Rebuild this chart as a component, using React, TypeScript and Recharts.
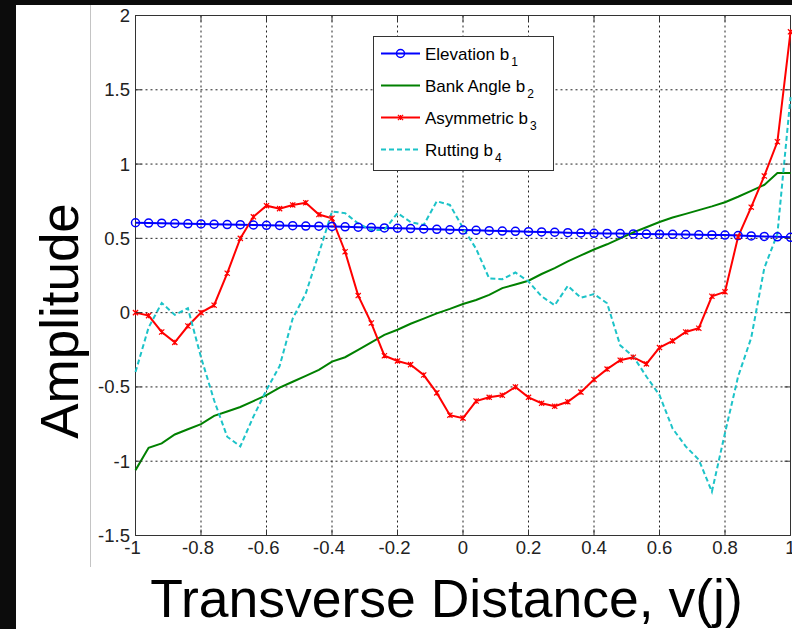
import {
  LineChart,
  Line,
  XAxis,
  YAxis,
  CartesianGrid,
  ReferenceArea,
  Legend,
  Label,
} from "recharts";

// transverse positions, step 0.04
const X_POS = [
  -1, -0.96, -0.92, -0.88, -0.84, -0.8, -0.76, -0.72, -0.68, -0.64,
  -0.6, -0.56, -0.52, -0.48, -0.44, -0.4, -0.36, -0.32, -0.28, -0.24,
  -0.2, -0.16, -0.12, -0.08, -0.04, 0, 0.04, 0.08, 0.12, 0.16,
  0.2, 0.24, 0.28, 0.32, 0.36, 0.4, 0.44, 0.48, 0.52, 0.56,
  0.6, 0.64, 0.68, 0.72, 0.76, 0.8, 0.84, 0.88, 0.92, 0.96, 1,
];

const ELEVATION = [
  0.605, 0.603, 0.602, 0.6, 0.598, 0.597, 0.595, 0.593, 0.592, 0.59,
  0.588, 0.587, 0.585, 0.583, 0.582, 0.58, 0.578, 0.575, 0.573, 0.57,
  0.568, 0.566, 0.563, 0.561, 0.558, 0.556, 0.554, 0.552, 0.549, 0.547,
  0.545, 0.543, 0.541, 0.538, 0.536, 0.534, 0.533, 0.532, 0.53, 0.529,
  0.528, 0.527, 0.526, 0.524, 0.523, 0.522, 0.519, 0.516, 0.513, 0.51, 0.507,
];

const BANK_ANGLE = [
  -1.06, -0.91, -0.88, -0.82, -0.785, -0.75, -0.695, -0.665, -0.635, -0.595,
  -0.555, -0.505, -0.465, -0.425, -0.385, -0.33, -0.3, -0.25, -0.2, -0.15,
  -0.115, -0.075, -0.04, -0.005, 0.025, 0.058, 0.085, 0.12, 0.165, 0.19,
  0.215, 0.26, 0.3, 0.345, 0.385, 0.425, 0.46, 0.5, 0.54, 0.575,
  0.61, 0.64, 0.665, 0.69, 0.715, 0.743, 0.78, 0.82, 0.86, 0.94, 0.94,
];

const ASYMMETRIC = [
  0, -0.02, -0.13, -0.2, -0.09, 0, 0.05, 0.265, 0.5, 0.645,
  0.72, 0.7, 0.725, 0.74, 0.66, 0.635, 0.41, 0.115, -0.07, -0.29,
  -0.325, -0.35, -0.42, -0.54, -0.69, -0.71, -0.595, -0.57, -0.556, -0.5,
  -0.57, -0.61, -0.63, -0.6, -0.535, -0.45, -0.38, -0.32, -0.3, -0.345,
  -0.235, -0.19, -0.13, -0.105, 0.11, 0.14, 0.51, 0.71, 0.92, 1.15, 1.89,
];

const RUTTING = [
  -0.4, -0.1, 0.065, -0.015, 0.03, -0.3, -0.59, -0.835, -0.9, -0.7,
  -0.52, -0.36, -0.04, 0.13, 0.4, 0.68, 0.67, 0.6, 0.557, 0.557,
  0.67, 0.61, 0.59, 0.75, 0.725, 0.57, 0.43, 0.23, 0.225, 0.27,
  0.21, 0.11, 0.05, 0.18, 0.1, 0.125, 0.063, -0.22, -0.295, -0.43,
  -0.555, -0.78, -0.9, -0.99, -1.205, -0.81, -0.43, -0.17, 0.3, 0.53, 1.45,
];

const X_TICKS = [-1, -0.8, -0.6, -0.4, -0.2, 0, 0.2, 0.4, 0.6, 0.8, 1];
const Y_TICKS = [-1.5, -1, -0.5, 0, 0.5, 1, 1.5, 2];

const SERIES = [
  { key: "b1", name: "Elevation b", sub: "1", color: "#0000ff" },
  { key: "b2", name: "Bank Angle b", sub: "2", color: "#008000" },
  { key: "b3", name: "Asymmetric b", sub: "3", color: "#ff0000" },
  { key: "b4", name: "Rutting b", sub: "4", color: "#1cc3c8" },
];

const W = 792;
const H = 629;
const PLOT = { left: 135.5, top: 15.5, right: 790.5, bottom: 535.5 };
const FONT = '"Liberation Sans", Arial, Helvetica, sans-serif';
const AXIS = "#333";
const TICK_LEN = 6;

const data = X_POS.map((x, i) => ({
  x,
  b1: ELEVATION[i],
  b2: BANK_ANGLE[i],
  b3: ASYMMETRIC[i],
  b4: RUTTING[i],
}));

function YTick({ x, y, payload }: any) {
  return (
    <g>
      <line x1={PLOT.left} x2={PLOT.left + TICK_LEN} y1={y} y2={y} stroke={AXIS} />
      <line x1={PLOT.right - TICK_LEN} x2={PLOT.right} y1={y} y2={y} stroke={AXIS} />
      <text x={x} y={y} dy="0.35em" textAnchor="end" fontSize={18.5} fontFamily={FONT} fill="#222">
        {String(payload.value)}
      </text>
    </g>
  );
}

function XTick({ x, y, payload }: any) {
  const v = payload.value;
  return (
    <g>
      <line x1={x} x2={x} y1={PLOT.bottom} y2={PLOT.bottom - TICK_LEN} stroke={AXIS} />
      <line x1={x} x2={x} y1={PLOT.top} y2={PLOT.top + TICK_LEN} stroke={AXIS} />
      <text x={x - (v < 0 ? 3 : 0)} y={y} dy="0.71em" textAnchor="middle" fontSize={18.5} fontFamily={FONT} fill="#222">
        {String(v)}
      </text>
    </g>
  );
}

// asterisk-ish marker used by the asymmetric series
function XMark({ cx, cy, color, size = 2.6 }: any) {
  if (cx == null || cy == null) return null;
  const s = size;
  return (
    <path
      d={`M${cx - s},${cy - s}L${cx + s},${cy + s}M${cx - s},${cy + s}L${cx + s},${cy - s}M${cx},${cy - s}L${cx},${cy + s}`}
      stroke={color}
      strokeWidth={1.2}
      fill="none"
    />
  );
}

function LegendBox() {
  return (
    <svg width={181} height={135} style={{ display: "block" }}>
      <rect x={0.5} y={0.5} width={180} height={134} fill="#fff" stroke={AXIS} />
      {SERIES.map((s, i) => {
        const cy = 17.5 + i * 32;
        return (
          <g key={s.key}>
            <line
              x1={8}
              x2={47}
              y1={cy}
              y2={cy}
              stroke={s.color}
              strokeWidth={2}
              strokeDasharray={s.key === "b4" ? "5 3" : undefined}
            />
            {s.key === "b1" && <circle cx={27.5} cy={cy} r={4} fill="none" stroke={s.color} strokeWidth={1.5} />}
            {s.key === "b3" && <XMark cx={27.5} cy={cy} color={s.color} />}
            <text x={52} y={cy + 6} fontSize={17} fontFamily={FONT} fill="#000">
              {s.name}
              <tspan fontSize={12} dx={2} dy={6}>{s.sub}</tspan>
            </text>
          </g>
        );
      })}
    </svg>
  );
}

export default function App() {
  return (
    <div style={{ position: "absolute", left: 0, top: 0, width: W, height: H, background: "#fff", overflow: "hidden" }}>
      <div style={{ position: "absolute", left: 0, top: 0, width: 16, height: H, background: "#0c0c0c" }} />
      <div style={{ position: "absolute", left: 0, top: 0, width: W, height: 5, background: "#0c0c0c" }} />
      <div style={{ position: "absolute", left: 90, top: 5, width: 1, height: 562, background: "#c4c4c4" }} />
      <div style={{ position: "absolute", left: 0, top: 0 }}>
        <LineChart
          width={W}
          height={H}
          data={data}
          margin={{ top: PLOT.top, right: W - PLOT.right, bottom: 0, left: 0 }}
        >
          <CartesianGrid stroke="#222" strokeDasharray="2 3" />
          <XAxis
            type="number"
            dataKey="x"
            domain={[-1, 1]}
            ticks={X_TICKS}
            interval={0}
            height={H - PLOT.bottom}
            tickSize={0}
            tickMargin={5}
            tickLine={false}
            axisLine={false}
            tick={<XTick />}
          >
            <Label
              content={() => (
                <text x={446.5} y={617} textAnchor="middle" fontSize={53.5} fontFamily={FONT} fill="#000">
                  Transverse Distance, v(j)
                </text>
              )}
            />
          </XAxis>
          <YAxis
            type="number"
            domain={[-1.5, 2]}
            ticks={Y_TICKS}
            interval={0}
            width={PLOT.left}
            tickSize={0}
            tickMargin={5.5}
            tickLine={false}
            axisLine={false}
            tick={<YTick />}
          >
            <Label
              content={() => (
                <text
                  x={78}
                  y={321}
                  transform="rotate(-90 78 321)"
                  textAnchor="middle"
                  fontSize={53}
                  fontFamily={FONT}
                  fill="#000"
                >
                  Amplitude
                </text>
              )}
            />
          </YAxis>
          <ReferenceArea x1={-1} x2={1} y1={-1.5} y2={2} fill="none" stroke={AXIS} strokeWidth={1} />
          <Line
            dataKey="b1"
            type="linear"
            stroke={SERIES[0].color}
            strokeWidth={2}
            dot={{ r: 4, stroke: SERIES[0].color, strokeWidth: 1.5, fill: "none" }}
            isAnimationActive={false}
          />
          <Line
            dataKey="b2"
            type="linear"
            stroke={SERIES[1].color}
            strokeWidth={2}
            dot={false}
            isAnimationActive={false}
          />
          <Line
            dataKey="b3"
            type="linear"
            stroke={SERIES[2].color}
            strokeWidth={2}
            dot={(p: any) => <XMark key={`m${p.index}`} cx={p.cx} cy={p.cy} color={SERIES[2].color} />}
            isAnimationActive={false}
          />
          <Line
            dataKey="b4"
            type="linear"
            stroke={SERIES[3].color}
            strokeWidth={2}
            strokeDasharray="5 3"
            dot={false}
            isAnimationActive={false}
          />
          <Legend
            layout="vertical"
            align="center"
            verticalAlign="middle"
            content={LegendBox}
            wrapperStyle={{ left: 373, top: 36, width: 181, height: 135 }}
          />
        </LineChart>
      </div>
    </div>
  );
}
